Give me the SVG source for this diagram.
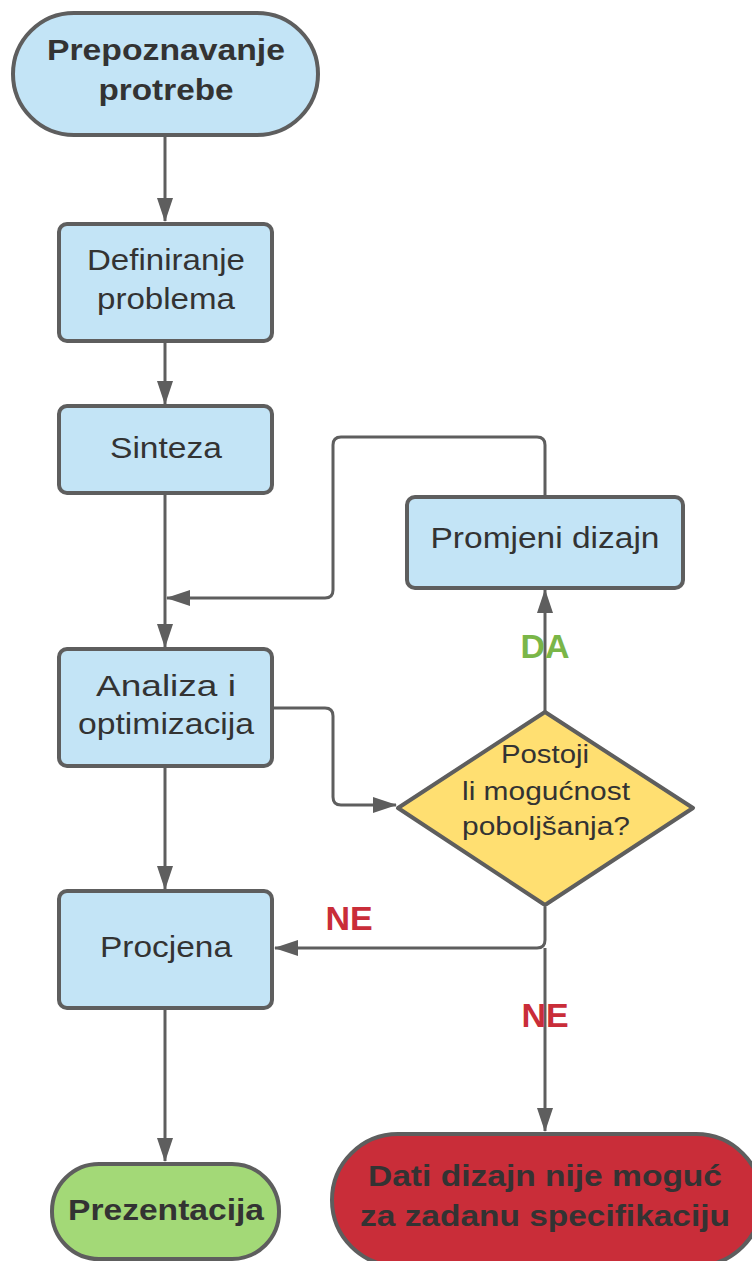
<svg xmlns="http://www.w3.org/2000/svg" width="752" height="1261" viewBox="0 0 752 1261">
<style>
.n{stroke:#5e5e5e;stroke-width:4}
.b{fill:#c3e4f6}
.t{font-family:"Liberation Sans",Arial,sans-serif;font-size:30px;fill:#333;text-anchor:middle}
.d{font-size:26px}
.bold{font-weight:bold}
.c{fill:none;stroke:#5e5e5e;stroke-width:3;stroke-linejoin:round}
.lbl{font-family:"Liberation Sans",Arial,sans-serif;font-size:34px;font-weight:bold;text-anchor:middle}
</style>
<defs>
<marker id="ah" markerWidth="24" markerHeight="16" refX="23" refY="8" orient="auto" markerUnits="userSpaceOnUse">
<path d="M0,0 L24,8 L0,16 Z" fill="#5e5e5e"/>
</marker>
</defs>
<rect width="752" height="1261" fill="#fff"/>
<g id="connectors">
<path class="c" d="M165,137 V221" marker-end="url(#ah)"/>
<path class="c" d="M165,342 V404" marker-end="url(#ah)"/>
<path class="c" d="M165,494 V647" marker-end="url(#ah)"/>
<path class="c" d="M545,496 V445 Q545,437 537,437 H341 Q333,437 333,445 V590 Q333,598 325,598 H167" marker-end="url(#ah)"/>
<path class="c" d="M273,708 H325 Q333,708 333,716 V797 Q333,805 341,805 H396" marker-end="url(#ah)"/>
<path class="c" d="M545,711 V590" marker-end="url(#ah)"/>
<path class="c" d="M545,907 V940 Q545,948 537,948 H275" marker-end="url(#ah)"/>
<path class="c" d="M545,948 V1131" marker-end="url(#ah)"/>
<path class="c" d="M165,767 V889" marker-end="url(#ah)"/>
<path class="c" d="M165,1009 V1161" marker-end="url(#ah)"/>
</g>
<g id="labels">
<text class="lbl" x="545" y="658" fill="#7ab648">DA</text>
<text class="lbl" x="349" y="930" fill="#c92d39">NE</text>
<text class="lbl" x="545" y="1027" fill="#c92d39">NE</text>
</g>
<g id="start">
<rect class="n b" x="13" y="13" width="305" height="122" rx="61"/>
<text class="t bold" x="166" y="60" textLength="238" lengthAdjust="spacingAndGlyphs">Prepoznavanje</text>
<text class="t bold" x="166" y="100" textLength="135" lengthAdjust="spacingAndGlyphs">protrebe</text>
</g>
<g id="definiranje">
<rect class="n b" x="59" y="224" width="213" height="117" rx="8"/>
<text class="t" x="166" y="270" textLength="158" lengthAdjust="spacingAndGlyphs">Definiranje</text>
<text class="t" x="166" y="309" textLength="138" lengthAdjust="spacingAndGlyphs">problema</text>
</g>
<g id="sinteza">
<rect class="n b" x="59" y="406" width="213" height="87" rx="8"/>
<text class="t" x="166" y="458" textLength="112" lengthAdjust="spacingAndGlyphs">Sinteza</text>
</g>
<g id="promjeni">
<rect class="n b" x="407" y="497" width="276" height="91" rx="8"/>
<text class="t" x="545" y="548" textLength="229" lengthAdjust="spacingAndGlyphs">Promjeni dizajn</text>
</g>
<g id="analiza">
<rect class="n b" x="59" y="649" width="213" height="117" rx="8"/>
<text class="t" x="166" y="696" textLength="140" lengthAdjust="spacingAndGlyphs">Analiza i</text>
<text class="t" x="166" y="734" textLength="176" lengthAdjust="spacingAndGlyphs">optimizacija</text>
</g>
<g id="odluka">
<path class="n" fill="#ffdf71" stroke-linejoin="round" d="M545,712 L693,808 L545,905 L398,808 Z"/>
<text class="t d" x="545" y="763" textLength="88" lengthAdjust="spacingAndGlyphs">Postoji</text>
<text class="t d" x="546" y="800" textLength="168" lengthAdjust="spacingAndGlyphs">li mogućnost</text>
<text class="t d" x="546" y="835" textLength="168" lengthAdjust="spacingAndGlyphs">poboljšanja?</text>
</g>
<g id="procjena">
<rect class="n b" x="59" y="891" width="213" height="117" rx="8"/>
<text class="t" x="166" y="957" textLength="132" lengthAdjust="spacingAndGlyphs">Procjena</text>
</g>
<g id="prezentacija">
<rect class="n" fill="#a3d977" x="52" y="1164" width="227" height="95" rx="47"/>
<text class="t bold" x="166" y="1220" textLength="196" lengthAdjust="spacingAndGlyphs">Prezentacija</text>
</g>
<g id="nemoguce">
<rect class="n" fill="#c92d39" x="332" y="1134" width="430" height="132" rx="66"/>
<text class="t bold" x="545" y="1186" textLength="354" lengthAdjust="spacingAndGlyphs">Dati dizajn nije moguć</text>
<text class="t bold" x="545" y="1226" textLength="370" lengthAdjust="spacingAndGlyphs">za zadanu specifikaciju</text>
</g>
</svg>
